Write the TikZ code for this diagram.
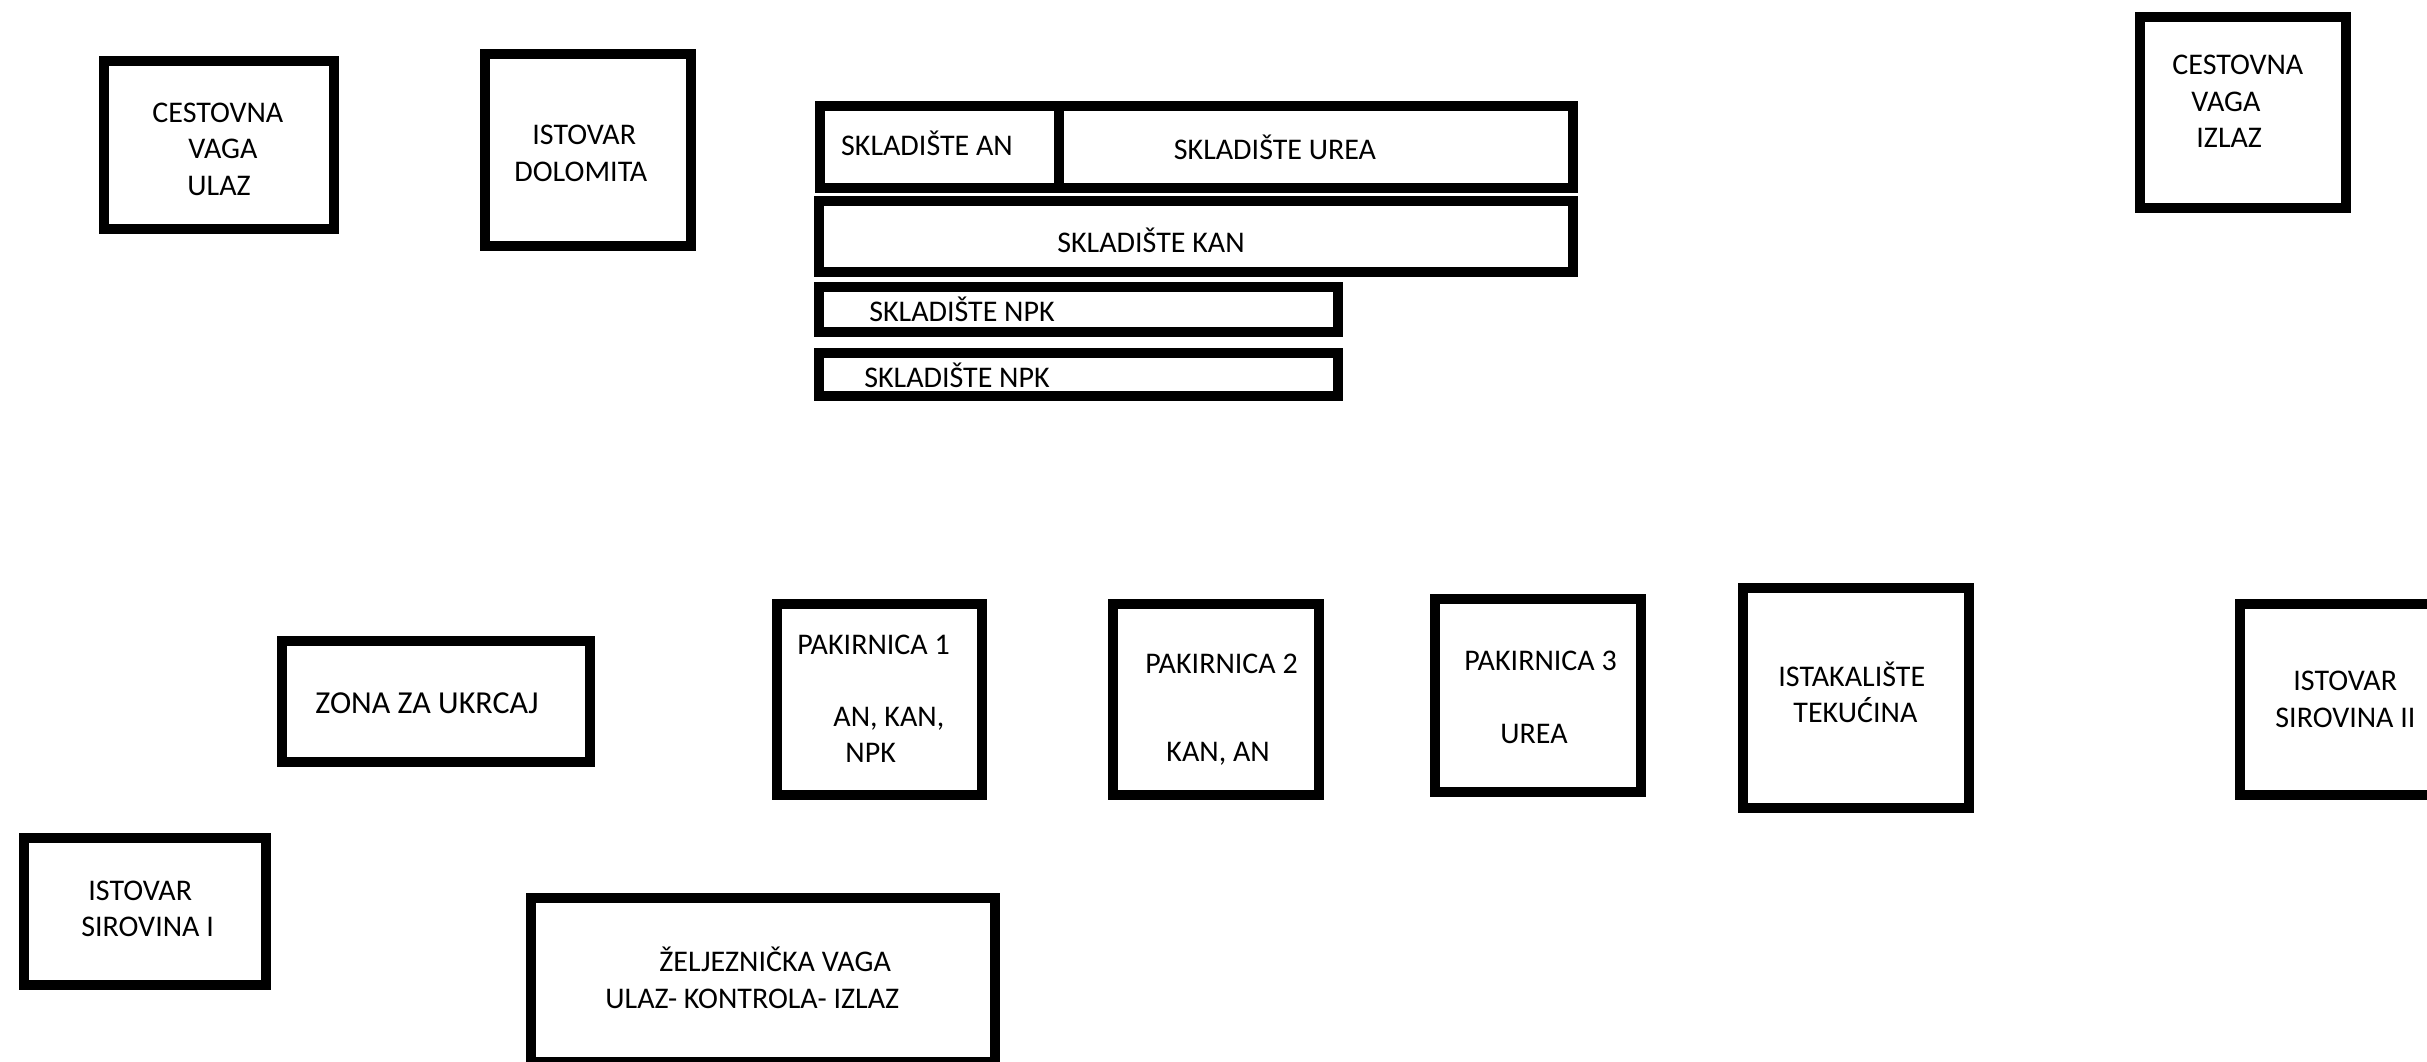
\documentclass[tikz,border=0pt]{standalone}
\usepackage{fontspec}
\setmainfont{Carlito}

\tikzset{
  zone/.style={draw=black, line width=5pt},
  lbl/.style={inner sep=0pt, align=left, anchor=west, font=\fontsize{15pt}{18.25pt}\selectfont}
}

\begin{document}
\begin{tikzpicture}[x=0.5pt, y=-0.5pt]
\useasboundingbox (0,0) rectangle (2427,1061);

% gornji red
\draw[zone] (104,61) rectangle (334,229);
\node[lbl] (vagaulaz) at (152,149) {CESTOVNA\\\hspace*{18pt}VAGA\\\hspace*{17.5pt}ULAZ};

\draw[zone] (485,54) rectangle (691,246);
\node[lbl] (dolomit) at (514,153.5) {\hspace*{9pt}ISTOVAR\\DOLOMITA};

\draw[zone] (2140,17) rectangle (2346,208);
\node[lbl] (vagaizlaz) at (2172,101.5) {CESTOVNA\\\hspace*{9.5pt}VAGA\\\hspace*{12pt}IZLAZ};

% skladista
\draw[zone] (820,106) rectangle (1573,188);
\draw[zone] (1059,106) -- (1059,188);
\node[lbl, anchor=base] (skan) at (927,155) {SKLADIŠTE AN};
\node[lbl, anchor=base] (skurea) at (1275,159) {SKLADIŠTE UREA};

\draw[zone] (819,201) rectangle (1573,272);
\node[lbl, anchor=base] (skkan) at (1151,252) {SKLADIŠTE KAN};

\draw[zone] (819,287) rectangle (1338,332);
\node[lbl, anchor=base] (sknpka) at (962,321) {SKLADIŠTE NPK};

\draw[zone] (819,353) rectangle (1338,396);
\node[lbl, anchor=base] (sknpkb) at (957,387) {SKLADIŠTE NPK};

% donji red
\draw[zone] (282,641) rectangle (590,762);
\node[lbl, anchor=base, font=\fontsize{16pt}{19pt}\selectfont] (ukrcaj) at (427,713) {ZONA ZA UKRCAJ};

\draw[zone] (777,604) rectangle (982,795);
\node[lbl] (pak1) at (797,699)
  {PAKIRNICA 1\\[17.5pt]\hspace*{18pt}AN, KAN,\\\hspace*{24pt}NPK};

\draw[zone] (1113,604) rectangle (1319,795);
\node[lbl] (pak2) at (1145,709.5) {PAKIRNICA 2\\[25.5pt]\hspace*{10.5pt}KAN, AN};

\draw[zone] (1435,599) rectangle (1641,792);
\node[lbl] (pak3) at (1464,697.5) {PAKIRNICA 3\\[18pt]\hspace*{18pt}UREA};

\draw[zone] (1743,588) rectangle (1969,808);
\node[lbl] (tekucine) at (1778,692.5) {ISTAKALIŠTE\\\hspace*{7.5pt}TEKUĆINA};

\draw[zone] (2240,604) rectangle (2445,795);
\node[lbl] (sirovine2) at (2275,699.5) {\hspace*{9pt}ISTOVAR\\SIROVINA II};

\draw[zone] (24,838) rectangle (266,985);
\node[lbl] (sirovine1) at (81,909) {\hspace*{3.5pt}ISTOVAR\\SIROVINA I};

\draw[zone] (531,898) rectangle (995,1062);
\node[lbl] (zvaga) at (605,978) {\hspace*{27pt}ŽELJEZNIČKA VAGA\\ULAZ- KONTROLA- IZLAZ};

\end{tikzpicture}
\end{document}
